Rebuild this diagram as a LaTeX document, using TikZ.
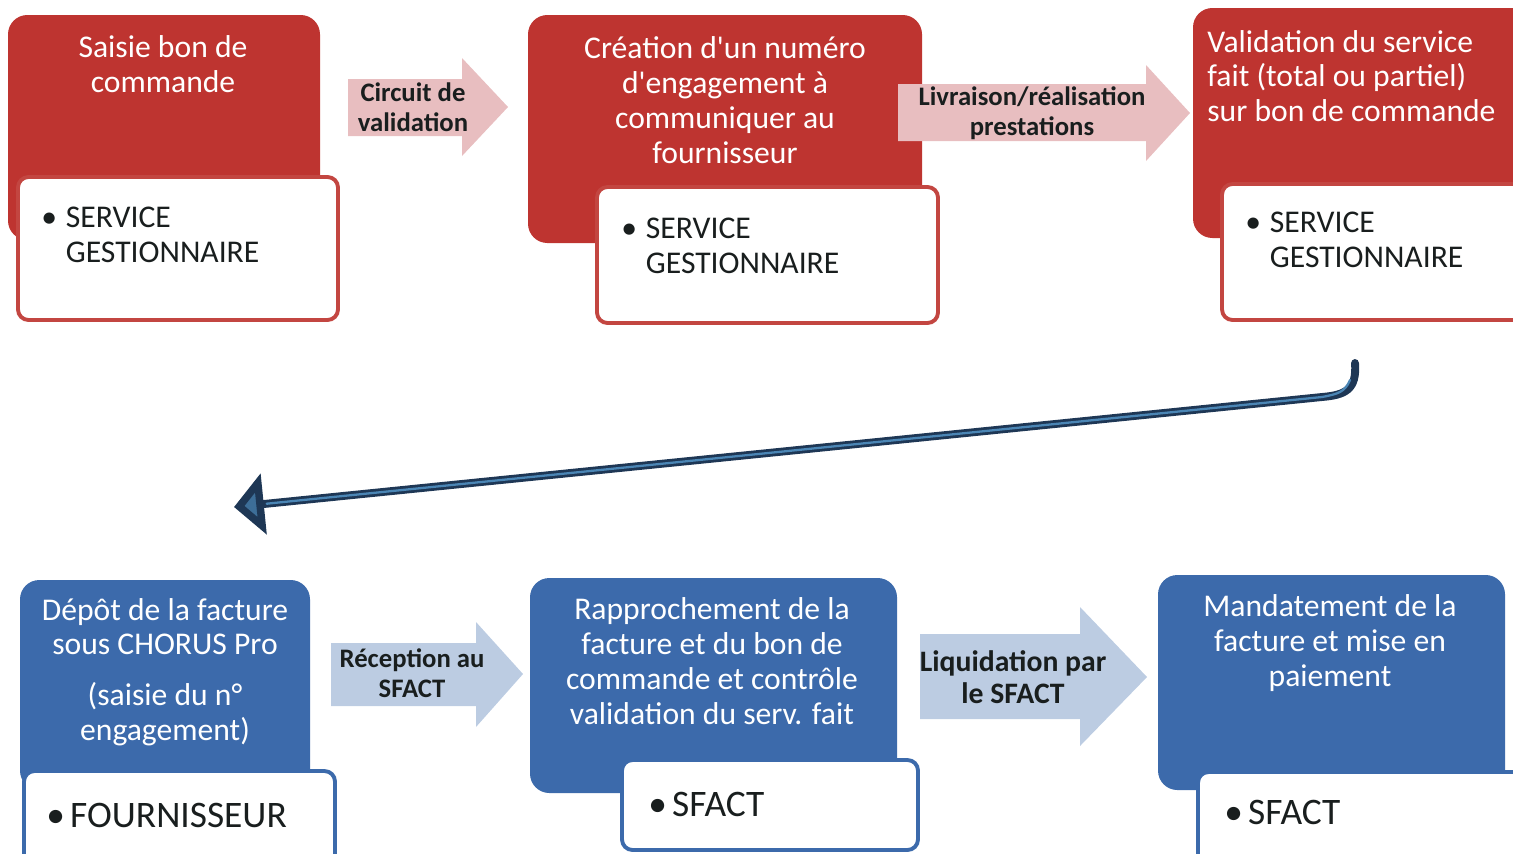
\documentclass[tikz,border=0pt]{standalone}
\usepackage{fontspec}
\setmainfont{Carlito}[Ligatures=TeXOff]
\usetikzlibrary{fit,arrows.meta,calc}
\definecolor{boxred}{RGB}{190,52,48}
\definecolor{boxblue}{RGB}{60,106,171}
\definecolor{arrpink}{RGB}{232,190,192}
\definecolor{arrblue}{RGB}{188,204,226}
\definecolor{bordred}{RGB}{195,70,65}
\definecolor{bordblue}{RGB}{60,106,171}
\definecolor{navy}{RGB}{30,55,85}
\definecolor{navyhi}{RGB}{75,134,181}
\definecolor{txtdark}{RGB}{25,30,30}
\begin{document}
\begin{tikzpicture}[x=0.02cm,y=-0.02cm,
  redbox/.style={fill=boxred, rounded corners=11pt, inner sep=0pt},
  bluebox/.style={fill=boxblue, rounded corners=11pt, inner sep=0pt},
  whitered/.style={fill=white, draw=bordred, line width=2.2pt, rounded corners=6pt, inner sep=0pt},
  whiteblue/.style={fill=white, draw=bordblue, line width=2.2pt, rounded corners=6pt, inner sep=0pt},
  title/.style={text=white, align=center, font=\fontsize{18}{19.8}\selectfont, inner sep=0pt},
  bul/.style={text=txtdark, font=\fontsize{18}{19.8}\selectfont, inner sep=0pt, anchor=west},
  bigbul/.style={text=txtdark, font=\fontsize{21.3}{24}\selectfont, inner sep=0pt, anchor=west},
  arrlabel/.style={text=txtdark, align=center, font=\bfseries\fontsize{15.2}{17}\selectfont, inner sep=0pt},
  bigarrlabel/.style={text=txtdark, align=center, font=\bfseries\fontsize{16.9}{18}\selectfont, inner sep=0pt},
  pinkarr/.style={fill=arrpink},
  bluearr/.style={fill=arrblue},
  longarr/.style={draw=navy, line width=4.5pt, line cap=round, -{Triangle[length=17pt,width=34pt,fill=navyhi!70!navy]}},
]
\useasboundingbox (0,0) rectangle (1513,853);
\clip (0,0) rectangle (1513,853);

% ---------- top row (red) ----------
\node[redbox, fit={(8,15) (320,240)}] (r1) {};
\node[whitered, fit={(18,177) (338,320)}] (w1) {};
\node[title] (t1) at (163,64) {Saisie bon de\\commande};
\node[bul] (s1) at (41,238) {\begin{tabular}{@{}l@{\hspace{5pt}}l@{}}\textbullet & SERVICE\\ & GESTIONNAIRE\end{tabular}};

\node[redbox, fit={(528,15) (922,243)}] (r2) {};
\node[whitered, fit={(597,187) (938,323)}] (w2) {};
\node[title] (t2) at (725,100) {Création d'un numéro\\d'engagement à\\communiquer au\\fournisseur};
\node[bul] (s2) at (621,249) {\begin{tabular}{@{}l@{\hspace{5pt}}l@{}}\textbullet & SERVICE\\ & GESTIONNAIRE\end{tabular}};

\node[redbox, fit={(1193,8) (1540,238)}] (r3) {};
\node[whitered, fit={(1222,184) (1540,320)}] (w3) {};
\node[title, align=left, anchor=west] (t3) at (1207,76) {Validation du service\\fait (total ou partiel)\\sur bon de commande};
\node[bul] (s3) at (1245,243) {\begin{tabular}{@{}l@{\hspace{5pt}}l@{}}\textbullet & SERVICE\\ & GESTIONNAIRE\end{tabular}};

% arrows top
\fill[pinkarr] (348,79) -- (462,79) -- (462,58) -- (508,107) -- (462,156) -- (462,136) -- (348,136) -- cycle;
\node[arrlabel] (a1) at (413,107) {Circuit de\\validation};
\fill[pinkarr] (898,84) -- (1146,84) -- (1146,65) -- (1190,113) -- (1146,161) -- (1146,141) -- (898,141) -- cycle;
\node[arrlabel] (a2) at (1032,113) {Livraison/réalisation\\prestations};

% ---------- bottom row (blue) ----------
\node[bluebox, fit={(20,580) (310,790)}] (b1) {};
\node[whiteblue, fit={(24,771) (335,880)}] (v1) {};
\node[title] (u1) at (165,672) {Dépôt de la facture\\sous CHORUS Pro\\[9pt](saisie du n°\\engagement)};
\node[bigbul] (f1) at (46,815) {\textbullet\hspace{3pt}FOURNISSEUR};

\node[bluebox, fit={(530,578) (897,793)}] (b2) {};
\node[whiteblue, fit={(622,760) (918,850)}] (v2) {};
\node[title] (u2) at (712,661) {Rapprochement de la\\facture et du bon de\\commande et contrôle\\validation du serv. fait};
\node[bigbul] (f2) at (648,804) {\textbullet\hspace{3pt}SFACT};

\node[bluebox, fit={(1158,575) (1505,790)}] (b3) {};
\node[whiteblue, fit={(1198,772) (1540,880)}] (v3) {};
\node[title] (u3) at (1330,643) {Mandatement de la\\facture et mise en\\paiement};
\node[bigbul] (f3) at (1224,812) {\textbullet\hspace{3pt}SFACT};

% arrows bottom
\fill[bluearr] (331,643) -- (476,643) -- (476,622) -- (523,674) -- (476,727) -- (476,706) -- (331,706) -- cycle;
\node[arrlabel] (a3) at (412,673) {Réception au\\SFACT};
\fill[bluearr] (920,634) -- (1080,634) -- (1080,607) -- (1147,677) -- (1080,746) -- (1080,719) -- (920,719) -- cycle;
\node[bigarrlabel] (a4) at (1013,677) {Liquidation par\\le SFACT};

% ---------- long return arrow ----------
\coordinate (ls) at (1355,363);
\coordinate (lm) at (1322,397);
\coordinate (le) at (234,507);
\draw[longarr] (ls) .. controls (1357,390) and (1345,395) .. (lm) -- (le);
\draw[navyhi, line width=1.3pt, line cap=round] (1350,380) .. controls (1345,392) and (1338,394) .. (lm) -- ($(le)!0.03!(lm)$);
\end{tikzpicture}
\end{document}
